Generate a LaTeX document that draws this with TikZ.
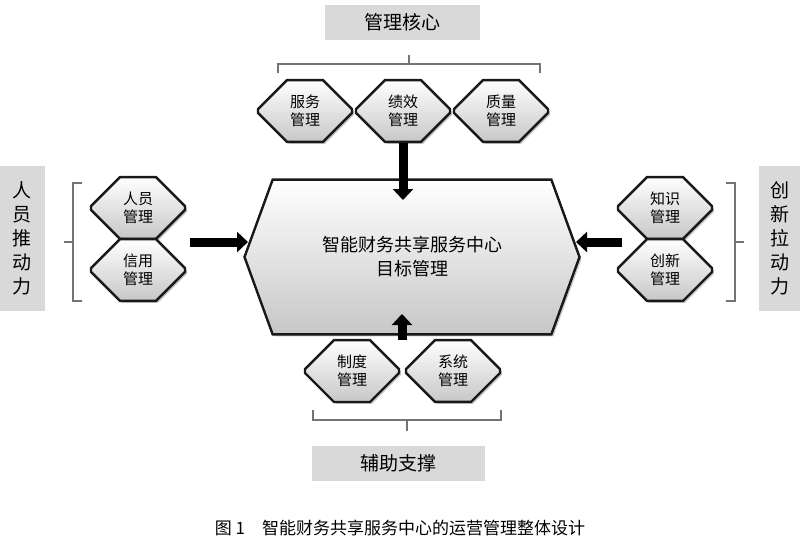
\documentclass[tikz,border=0pt]{standalone}
\usepackage{fontspec}
\newfontfamily\cjk{Noto Sans CJK SC}
\usetikzlibrary{shapes.misc,arrows.meta,shadows}
\begin{document}
\begin{tikzpicture}[x=1pt,y=-1pt,font=\cjk,
  hex/.style={chamfered rectangle, chamfered rectangle xsep=14pt, chamfered rectangle ysep=29pt,
    minimum width=94pt, minimum height=58pt, inner sep=0pt, draw=black!90, line width=2.4pt,
    top color=white, bottom color=black!22, align=center, font=\cjk\fontsize{15}{18}\selectfont,
    drop shadow={shadow xshift=2pt,shadow yshift=-2pt,fill=black!45}},
  lab/.style={fill=black!15, inner sep=0pt, font=\cjk\fontsize{19}{24}\selectfont, align=center},
  barrow/.style={line width=9pt, black, -{Triangle[length=11pt,width=20pt]}},
  brk/.style={draw=black!55, line width=2pt}]
\useasboundingbox (0,0) rectangle (800,552);
\node[lab, minimum width=155pt, minimum height=35pt] (tc) at (402,22) {管理核心};
\node[hex] (h1) at (305,111) {服务\\管理};
\node[hex] (h2) at (403,111) {绩效\\管理};
\node[hex] (h3) at (501,111) {质量\\管理};
\node[hex, chamfered rectangle angle=20, chamfered rectangle xsep=22pt, chamfered rectangle ysep=57pt, minimum width=335pt, minimum height=114pt,
  font=\cjk\fontsize{18}{24}\selectfont] (c) at (412,257) {智能财务共享服务中心\\目标管理};
\node[hex] (l1) at (138,208) {人员\\管理};
\node[hex] (l2) at (138,270) {信用\\管理};
\node[hex] (r1) at (665,208) {知识\\管理};
\node[hex] (r2) at (665,270) {创新\\管理};
\node[hex] (b1) at (352,371) {制度\\管理};
\node[hex] (b2) at (453,371) {系统\\管理};
\node[lab, minimum width=45pt, minimum height=145pt] (lt) at (22,238) {人\\员\\推\\动\\力};
\node[lab, minimum width=42pt, minimum height=145pt] (rt) at (780,238) {创\\新\\拉\\动\\力};
\node[lab, minimum width=173pt, minimum height=35pt] (bt) at (398,463) {辅助支撑};
\node[font=\cjk\fontsize{17}{20}\selectfont] (cap) at (400,528) {图 1\quad 智能财务共享服务中心的运营管理整体设计};
% brackets
\draw[brk] (278,73) -- (278,64) -- (540,64) -- (540,73) (409,64) -- (409,55);
\draw[brk] (82,183) -- (73,183) -- (73,301) -- (82,301) (73,242) -- (64,242);
\draw[brk] (726,183) -- (735,183) -- (735,301) -- (726,301) (735,242) -- (744,242);
\draw[brk] (313,410) -- (313,420) -- (501,420) -- (501,410) (407,420) -- (407,431);
% arrows
\coordinate (ta) at (403,143);
\coordinate (la) at (190,242);
\coordinate (ra) at (622,242);
\coordinate (ba) at (402,340);
\draw[barrow] (ta) -- (403,200);
\draw[barrow] (la) -- (248,242);
\draw[barrow] (ra) -- (576,242);
\draw[barrow] (ba) -- (402,314);
\end{tikzpicture}
\end{document}
